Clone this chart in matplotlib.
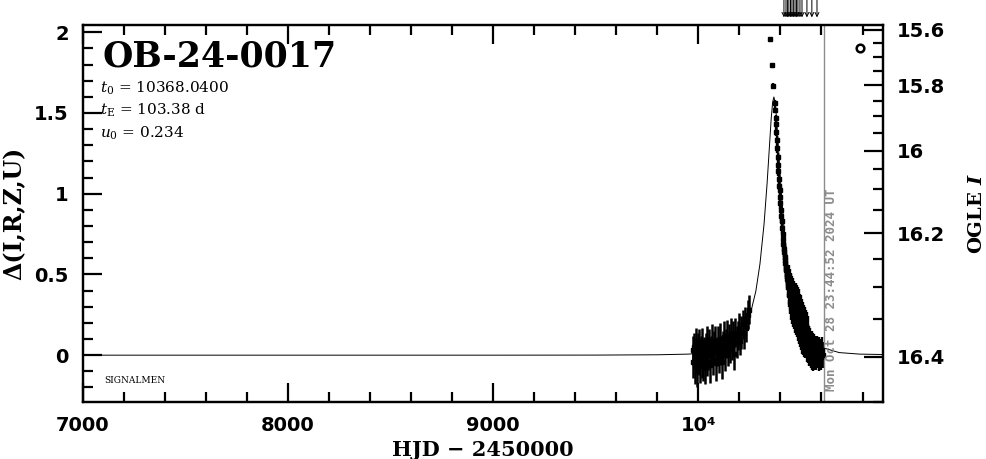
import numpy as np
import matplotlib
matplotlib.use('Agg')
import matplotlib.pyplot as plt
from matplotlib.ticker import MultipleLocator, FuncFormatter

plt.rcParams['font.family'] = 'DejaVu Sans'
plt.rcParams['mathtext.fontset'] = 'dejavuserif'

# event parameters shown on the chart
event_name = "OB-24-0017"
t0_text = "10368.0400"
te_text = "103.38"
u0_text = "0.234"
now_text = "Mon Oct 28 23:44:52 2024 UT"
now_hjd = 10612.0

# baseline mag and source fraction linking Δ(I) to OGLE I (right axis)
I_BASE = 16.395
F_SRC = 0.2
mag_major = [15.6, 15.8, 16.0, 16.2, 16.4]
mag_labels = ['15.6', '15.8', '16', '16.2', '16.4']
mag_minor = [15.65, 15.7, 15.75, 15.85, 15.9, 15.95, 16.05, 16.1, 16.15,
             16.25, 16.3, 16.35, 16.45]

# model curve
model_t = [7000, 9000, 9500, 9800, 9950, 10050, 10150, 10200, 10250, 10280, 10300,
           10320, 10335, 10345, 10355, 10362, 10368, 10374, 10381, 10391, 10401,
           10416, 10436, 10456, 10486, 10536, 10586, 10686, 10786, 10900]
model_d = [0.0, 0.0, 0.0005, 0.0024, 0.0065, 0.016, 0.054, 0.109, 0.238, 0.396, 0.564,
           0.811, 1.066, 1.267, 1.467, 1.567, 1.599, 1.567, 1.467, 1.267, 1.066,
           0.811, 0.564, 0.396, 0.238, 0.109, 0.054, 0.016, 0.0065, 0.004]

# photometry, pre-peak season
pre_t = [9972, 9976, 9980, 9983, 9987, 9990, 9993, 9997, 10001, 10005, 10008, 10012,
         10016, 10020, 10024, 10028, 10032, 10036, 10040, 10044, 10048, 10052, 10056,
         10060, 10065, 10070, 10074, 10079, 10084, 10089, 10094, 10099, 10104, 10109,
         10114, 10119, 10124, 10129, 10134, 10139, 10144, 10149, 10154, 10159, 10164,
         10169, 10174, 10180, 10186, 10192, 10198, 10204, 10210, 10216, 10222, 10228,
         10234, 10240, 10246]
pre_d = [0.03, -0.04, 0.05, -0.07, 0.02, 0.07, -0.10, 0.04, -0.03, 0.06, -0.07, 0.03,
         -0.04, 0.08, -0.05, 0.02, -0.08, 0.05, 0.08, -0.04, 0.01, 0.07, -0.06,
         0.03, 0.09, -0.03, 0.05, 0.09, -0.05, 0.02, 0.08, -0.02, 0.10, 0.03,
         -0.04, 0.06, 0.11, 0.00, 0.07, 0.12, 0.02, 0.09, 0.04, 0.13, 0.06,
         0.11, 0.01, 0.14, 0.08, 0.12, 0.16, 0.09, 0.14, 0.19, 0.14, 0.21,
         0.17, 0.25, 0.28]
pre_e = [0.09, 0.10, 0.09, 0.11, 0.09, 0.10, 0.10, 0.10, 0.09, 0.10, 0.10, 0.09,
         0.10, 0.09, 0.11, 0.09, 0.10, 0.09, 0.10, 0.09, 0.10, 0.09, 0.11,
         0.09, 0.10, 0.09, 0.10, 0.09, 0.11, 0.09, 0.10, 0.09, 0.10, 0.09,
         0.11, 0.09, 0.10, 0.10, 0.09, 0.10, 0.09, 0.10, 0.09, 0.10, 0.09,
         0.10, 0.10, 0.09, 0.10, 0.09, 0.10, 0.09, 0.10, 0.09, 0.10, 0.09,
         0.09, 0.09, 0.09]

# photometry, peak and decline
post_t = [10349, 10360, 10365, 10372, 10374, 10376, 10378, 10380, 10382, 10384, 10386,
          10388, 10390, 10392, 10394, 10396, 10398, 10400, 10402, 10404, 10406, 10408,
          10410, 10412, 10414, 10416, 10418, 10420, 10422, 10424, 10426, 10428, 10430,
          10432, 10434, 10436, 10438, 10440, 10442, 10445, 10447, 10450, 10452, 10455,
          10457, 10460, 10462, 10465, 10467, 10470, 10472, 10475, 10477, 10480, 10482,
          10485, 10487, 10490, 10492, 10495, 10497, 10500, 10502, 10505, 10507, 10510,
          10512, 10515, 10517, 10520, 10522, 10525, 10527, 10530, 10532, 10535, 10537,
          10540, 10543, 10546, 10549, 10552, 10555, 10558, 10561, 10564, 10567, 10570,
          10574, 10578, 10582, 10586, 10590, 10594, 10598, 10602, 10605]
post_d = [1.96, 1.80, 1.67, 1.56, 1.52, 1.47, 1.43, 1.38, 1.33, 1.28, 1.23,
          1.18, 1.14, 1.09, 1.05, 1.02, 0.98, 0.94, 0.90, 0.86, 0.83, 0.79,
          0.75, 0.72, 0.69, 0.66, 0.64, 0.61, 0.59, 0.57, 0.54, 0.53, 0.50,
          0.49, 0.47, 0.46, 0.43, 0.49, 0.37, 0.46, 0.33, 0.43, 0.30, 0.41,
          0.28, 0.39, 0.26, 0.37, 0.25, 0.36, 0.23, 0.35, 0.22, 0.34, 0.21,
          0.32, 0.19, 0.31, 0.17, 0.28, 0.15, 0.27, 0.13, 0.25, 0.11, 0.23,
          0.10, 0.21, 0.09, 0.20, 0.08, 0.18, 0.06, 0.17, 0.05, 0.14, 0.03,
          0.09, 0.02, 0.08, 0.01, 0.06, 0.00, 0.05, -0.01, 0.04, 0.00, 0.03,
          -0.01, 0.04, 0.00, 0.03, -0.02, 0.02, -0.01, 0.03, 0.00]
post_e = [0.012, 0.012, 0.015, 0.02, 0.02, 0.02, 0.02, 0.025, 0.025, 0.025, 0.025,
          0.03, 0.03, 0.03, 0.03, 0.03, 0.035, 0.035, 0.035, 0.04, 0.04, 0.04,
          0.04, 0.045, 0.045, 0.05, 0.05, 0.05, 0.05, 0.055, 0.055, 0.06, 0.06,
          0.06, 0.065, 0.065, 0.07, 0.07, 0.07, 0.075, 0.075, 0.08, 0.08, 0.08,
          0.085, 0.085, 0.085, 0.09, 0.09, 0.09, 0.09, 0.095, 0.095, 0.095, 0.1,
          0.1, 0.1, 0.1, 0.1, 0.1, 0.1, 0.1, 0.1, 0.1, 0.1, 0.1,
          0.1, 0.1, 0.1, 0.1, 0.1, 0.1, 0.1, 0.1, 0.1, 0.1, 0.1,
          0.09, 0.09, 0.09, 0.09, 0.09, 0.09, 0.09, 0.09, 0.09, 0.09, 0.09,
          0.08, 0.08, 0.08, 0.08, 0.08, 0.08, 0.08, 0.08, 0.08]

# points off the top of the plot (drawn as arrows)
arrow_t = [10417, 10427, 10434, 10441, 10449, 10456, 10463, 10471, 10478, 10485,
           10495, 10505, 10529, 10553, 10578]

# open circle symbol in the upper right
circ_t = [10787]
circ_d = [1.90]


def to_delta(m):
    f = 10 ** (-0.4 * (np.asarray(m) - I_BASE)) - (1 - F_SRC)
    return 2.5 * np.log10(np.maximum(f, 1e-9) / F_SRC)


fig = plt.figure(figsize=(9.86, 4.59), dpi=100)
ax = fig.add_axes([0.0839, 0.1242, 0.8117, 0.8214])

ax.plot(model_t, model_d, color='k', lw=0.7)
ax.errorbar(pre_t, pre_d, yerr=pre_e, fmt='s', ms=2.5, color='k', ecolor='k',
            elinewidth=1.8, capsize=0)
ax.errorbar(post_t, post_d, yerr=post_e, fmt='s', ms=3, color='k', ecolor='k',
            elinewidth=1.7, capsize=0)
ax.plot(circ_t, circ_d, 'o', ms=5.5, mfc='white', mec='k', mew=1.8)

ax.axvline(now_hjd, color='#8c8c8c', lw=1)
ax.text(now_hjd + 6, 0.03, now_text, transform=ax.get_xaxis_transform(),
        rotation=90, ha='left', va='bottom', color='#8c8c8c',
        family='DejaVu Sans Mono', fontweight='bold', fontsize=9)

for t in arrow_t:
    ax.annotate('', xy=(t, 1.02), xytext=(t, 1.068), xycoords=('data', 'axes fraction'),
                textcoords=('data', 'axes fraction'), annotation_clip=False,
                arrowprops=dict(arrowstyle='->', lw=0.7, color='k',
                                shrinkA=0, shrinkB=0, mutation_scale=7))

ax.set_xlim(7000, 10900)
ax.set_ylim(-0.29, 2.045)

for s in ax.spines.values():
    s.set_linewidth(1.6)

ax.xaxis.set_major_locator(MultipleLocator(1000))
ax.xaxis.set_minor_locator(MultipleLocator(200))
ax.yaxis.set_major_locator(MultipleLocator(0.5))
ax.yaxis.set_minor_locator(MultipleLocator(0.1))
ax.xaxis.set_major_formatter(FuncFormatter(lambda v, p: '10⁴' if v == 10000 else '%d' % v))
ax.yaxis.set_major_formatter(FuncFormatter(lambda v, p: '%g' % v))
ax.tick_params(which='both', direction='in', top=True, right=False, width=1.6)
ax.tick_params(which='major', length=14, labelsize=14, pad=10)
ax.tick_params(which='minor', length=7)
for lab in ax.get_xticklabels() + ax.get_yticklabels():
    lab.set_fontweight('bold')

# right axis: OGLE I magnitude
rax = ax.twinx()
rax.set_ylim(ax.get_ylim())
rax.set_yticks(to_delta(mag_major))
rax.set_yticklabels(mag_labels, fontweight='bold')
rax.set_yticks(to_delta(mag_minor), minor=True)
rax.tick_params(which='both', direction='in', width=1.6)
rax.tick_params(which='major', length=14, labelsize=14, pad=10)
rax.tick_params(which='minor', length=7)
for s in rax.spines.values():
    s.set_linewidth(1.6)

# texts
ax.text(0.025, 0.889, event_name, transform=ax.transAxes, family='DejaVu Serif',
        fontweight='bold', fontsize=25, va='baseline')
ax.text(0.0216, 0.820, r'$t_0$ = ' + t0_text, transform=ax.transAxes,
        family='DejaVu Serif', fontsize=11, va='baseline')
ax.text(0.0216, 0.761, r'$t_\mathrm{E}$ = ' + te_text + ' d', transform=ax.transAxes,
        family='DejaVu Serif', fontsize=11, va='baseline')
ax.text(0.0216, 0.701, r'$u_0$ = ' + u0_text, transform=ax.transAxes,
        family='DejaVu Serif', fontsize=11, va='baseline')
ax.text(0.027, 0.050, 'SIGNALMEN', transform=ax.transAxes, family='DejaVu Serif',
        fontsize=6.5, va='baseline')

fig.text(483 / 986, 1 - 449.5 / 459, 'HJD − 2450000', ha='center', va='center',
         family='DejaVu Serif', fontweight='bold', fontsize=15)
fig.text(14 / 986, 1 - 213.5 / 459, 'Δ(I,R,Z,U)', ha='center', va='center',
         rotation=90, family='DejaVu Serif', fontweight='bold', fontsize=17)
fig.text(976.5 / 986, 1 - 213.5 / 459, r'OGLE $\mathbfit{I}$', ha='center', va='center',
         rotation=90, family='DejaVu Serif', fontweight='bold', fontsize=14)

fig.savefig('out.png', dpi=100)
